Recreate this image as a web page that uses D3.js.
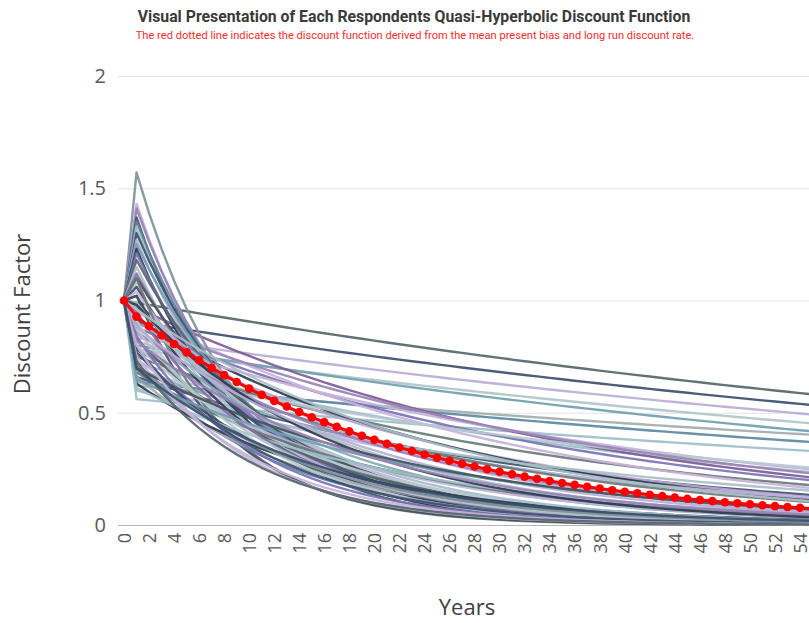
<!DOCTYPE html>
<html>
<head>
<meta charset="utf-8">
<script src="https://cdn.jsdelivr.net/npm/d3@7/dist/d3.min.js"></script>
<style>
  html, body { margin: 0; padding: 0; background: #fff; }
  svg { display: block; }
</style>
</head>
<body>
<svg id="chart" width="809" height="623"></svg>
<script>
// Years on the x axis and tick labels shown (every second year)
const years = d3.range(0, 61);
const xTickYears = d3.range(0, 56, 2);
const yTicks = [0, 0.5, 1, 1.5, 2];

// Each respondent's present bias (beta) and long-run discount factor (delta)
const presentBias = [
  // patient respondents, slow long-run decline
  1.000, 0.913, 0.841, 0.791, 0.810, 0.625, 0.645, 0.566, 0.735, 0.998,
  0.905, 0.770, 0.981, 0.680, 0.881, 0.724, 0.956, 0.660, 0.810, 0.615,
  0.838, 0.692, 0.923,
  // future-biased respondents (beta above one)
  1.774, 1.607, 1.575, 1.548, 1.500, 1.489, 1.436, 1.411, 1.374, 1.374,
  1.337, 1.290, 1.278, 1.231, 1.196, 1.193, 1.159, 1.124, 1.121, 1.257,
  1.160,
  // the bulk of respondents
  1.021, 0.984, 0.947, 0.901, 0.892, 0.856, 0.832, 0.783, 0.772, 0.716,
  0.710, 0.670, 0.639, 1.038, 1.000, 0.946, 0.928, 0.863, 0.829, 0.774,
  1.065, 1.043, 0.926, 0.677, 0.731, 1.000, 0.865, 0.894, 0.812, 0.745
];
const longRunDelta = [
  0.9902, 0.9903, 0.9903, 0.9899, 0.9880, 0.9920, 0.9899, 0.9902, 0.9795, 0.9722,
  0.9728, 0.9736, 0.9680, 0.9708, 0.9650, 0.9670, 0.9620, 0.9695, 0.9630, 0.9750,
  0.9780, 0.9820, 0.9750,
  0.885, 0.890, 0.895, 0.885, 0.900, 0.893, 0.905, 0.900, 0.910, 0.895,
  0.905, 0.915, 0.900, 0.910, 0.920, 0.905, 0.915, 0.925, 0.910, 0.875,
  0.880,
  0.950, 0.945, 0.940, 0.955, 0.930, 0.935, 0.925, 0.945, 0.920, 0.950,
  0.930, 0.940, 0.955, 0.915, 0.910, 0.920, 0.905, 0.915, 0.905, 0.930,
  0.930, 0.940, 0.950, 0.960, 0.958, 0.960, 0.948, 0.895, 0.900, 0.935
];

// Mean present bias and mean long-run discount factor (red dotted line)
const meanPresentBias = 0.973;
const meanLongRunDelta = 0.954;

// Stroke colours, one per respondent in drawing order
const lineColors = [
  "#56666b", "#3d4e6e", "#b9acd6", "#b0c4c8", "#6f9fb0", "#a3abac",
  "#5b88a3", "#9dbfc8", "#9dbfc8", "#7d5d93", "#7b73b5", "#6a7a78",
  "#c7b3da", "#3d4e6e", "#b7a6d2", "#8aa9b3", "#2e3b50", "#c0b4dc",
  "#6a7a78", "#a9bfc4", "#c7b3da", "#b7c9cf", "#9a82b8",
  "#7f9398", "#c0b0da", "#9a82b8", "#44545c", "#5f8797", "#9dbfc8",
  "#3d4e6e", "#b9acd6", "#6f9fb0", "#2e3b50", "#7b73b5", "#56666b",
  "#a9bfc4", "#8a6fa8", "#44545c", "#b7c9cf", "#3d4e6e", "#c7b3da",
  "#2e3b50", "#6a7a78",
  "#44545c", "#b9acd6", "#a9bfc4", "#8aa9b3", "#9a82b8", "#56666b",
  "#b7c9cf", "#3d4e6e", "#c0b4dc", "#5b88a3", "#6a7a78", "#a3abac",
  "#2e3b50", "#9dbfc8", "#8a6fa8", "#b7c9cf", "#b0c4c8", "#7b73b5",
  "#3d4e6e", "#c7b3da", "#7f9398", "#9dbfc8", "#2e3b50", "#b9acd6",
  "#6f9fb0", "#44545c", "#a9bfc4", "#9a82b8", "#c0b4dc"
];

// Quasi-hyperbolic discount factor: 1 at t = 0, beta * delta^t afterwards
function discount(beta, delta, t) {
  return t === 0 ? 1 : beta * Math.pow(delta, t);
}

const svg = d3.select("#chart");
const W = 809, H = 623;

const x = d3.scaleLinear().domain([0, 54]).range([124, 800]);
const y = d3.scaleLinear().domain([0, 2]).range([525, 76]);

svg.append("defs").append("clipPath").attr("id", "plotClip")
  .append("rect").attr("x", 0).attr("y", 50).attr("width", W).attr("height", 480);

// Title and subtitle
svg.append("text")
  .attr("x", 414).attr("y", 22)
  .attr("text-anchor", "middle")
  .style("font-family", "Roboto, sans-serif")
  .style("font-weight", "bold")
  .style("font-size", "15.8px")
  .style("fill", "#3a3a3a")
  .text("Visual Presentation of Each Respondents Quasi-Hyperbolic Discount Function");

svg.append("text")
  .attr("x", 415).attr("y", 39)
  .attr("text-anchor", "middle")
  .style("font-family", "Roboto, sans-serif")
  .style("font-size", "11.1px")
  .style("fill", "#ff2b2b")
  .text("The red dotted line indicates the discount function derived from the mean present bias and long run discount rate.");

// Horizontal grid lines and y tick labels
const yAxis = d3.axisLeft(y).tickValues(yTicks)
  .tickFormat(d => d3.format("")(d))
  .tickSize(-(W - 118)).tickPadding(12);
const gy = svg.append("g").attr("transform", "translate(118,0)").call(yAxis);
gy.select(".domain").remove();
gy.selectAll(".tick line").attr("stroke", "#e3e3e3").attr("stroke-width", 1);
gy.selectAll(".tick").filter(d => d === 0).select("line").attr("stroke", "#b5b5b5");
gy.selectAll(".tick text")
  .attr("x", -12)
  .style("font-family", "'Open Sans', sans-serif")
  .style("font-size", "20px")
  .style("fill", "#595959");

// Respondent curves
const line = d3.line()
  .x(d => x(d.t))
  .y(d => y(d.v));

const respondents = presentBias.map((b, i) => ({
  id: i,
  values: years.map(t => ({ t, v: discount(b, longRunDelta[i], t) }))
}));

const plot = svg.append("g").attr("clip-path", "url(#plotClip)");
plot.selectAll("path.resp")
  .data(respondents)
  .join("path")
  .attr("class", "resp")
  .attr("d", d => line(d.values))
  .attr("fill", "none")
  .attr("stroke", d => lineColors[d.id % lineColors.length])
  .attr("stroke-width", 2.4)
  .attr("stroke-opacity", 0.92)
  .attr("stroke-linejoin", "round");

// Mean discount function
const meanValues = years.map(t => ({ t, v: discount(meanPresentBias, meanLongRunDelta, t) }));
plot.append("path")
  .attr("d", line(meanValues))
  .attr("fill", "none")
  .attr("stroke", "#ff0000")
  .attr("stroke-width", 3);
plot.selectAll("circle.mean")
  .data(meanValues)
  .join("circle")
  .attr("class", "mean")
  .attr("cx", d => x(d.t))
  .attr("cy", d => y(d.v))
  .attr("r", 4.3)
  .attr("fill", "#ff0000");

// X axis labels
const xAxis = d3.axisBottom(x).tickValues(xTickYears).tickSize(0).tickPadding(8);
const gx = svg.append("g").attr("transform", "translate(0,525)").call(xAxis);
gx.select(".domain").remove();
gx.selectAll(".tick text")
  .attr("transform", "rotate(-90)")
  .attr("text-anchor", "end")
  .attr("x", -8).attr("y", 0).attr("dy", "0.35em")
  .style("font-family", "'Open Sans', sans-serif")
  .style("font-size", "18px")
  .style("fill", "#595959");

// Axis titles
svg.append("text")
  .attr("transform", "translate(30,314) rotate(-90)")
  .attr("text-anchor", "middle")
  .style("font-family", "'Open Sans', sans-serif")
  .style("font-size", "22px")
  .style("fill", "#404040")
  .text("Discount Factor");

svg.append("text")
  .attr("x", 467).attr("y", 615)
  .attr("text-anchor", "middle")
  .style("font-family", "'Open Sans', sans-serif")
  .style("font-size", "22px")
  .style("fill", "#404040")
  .text("Years");
</script>
</body>
</html>
